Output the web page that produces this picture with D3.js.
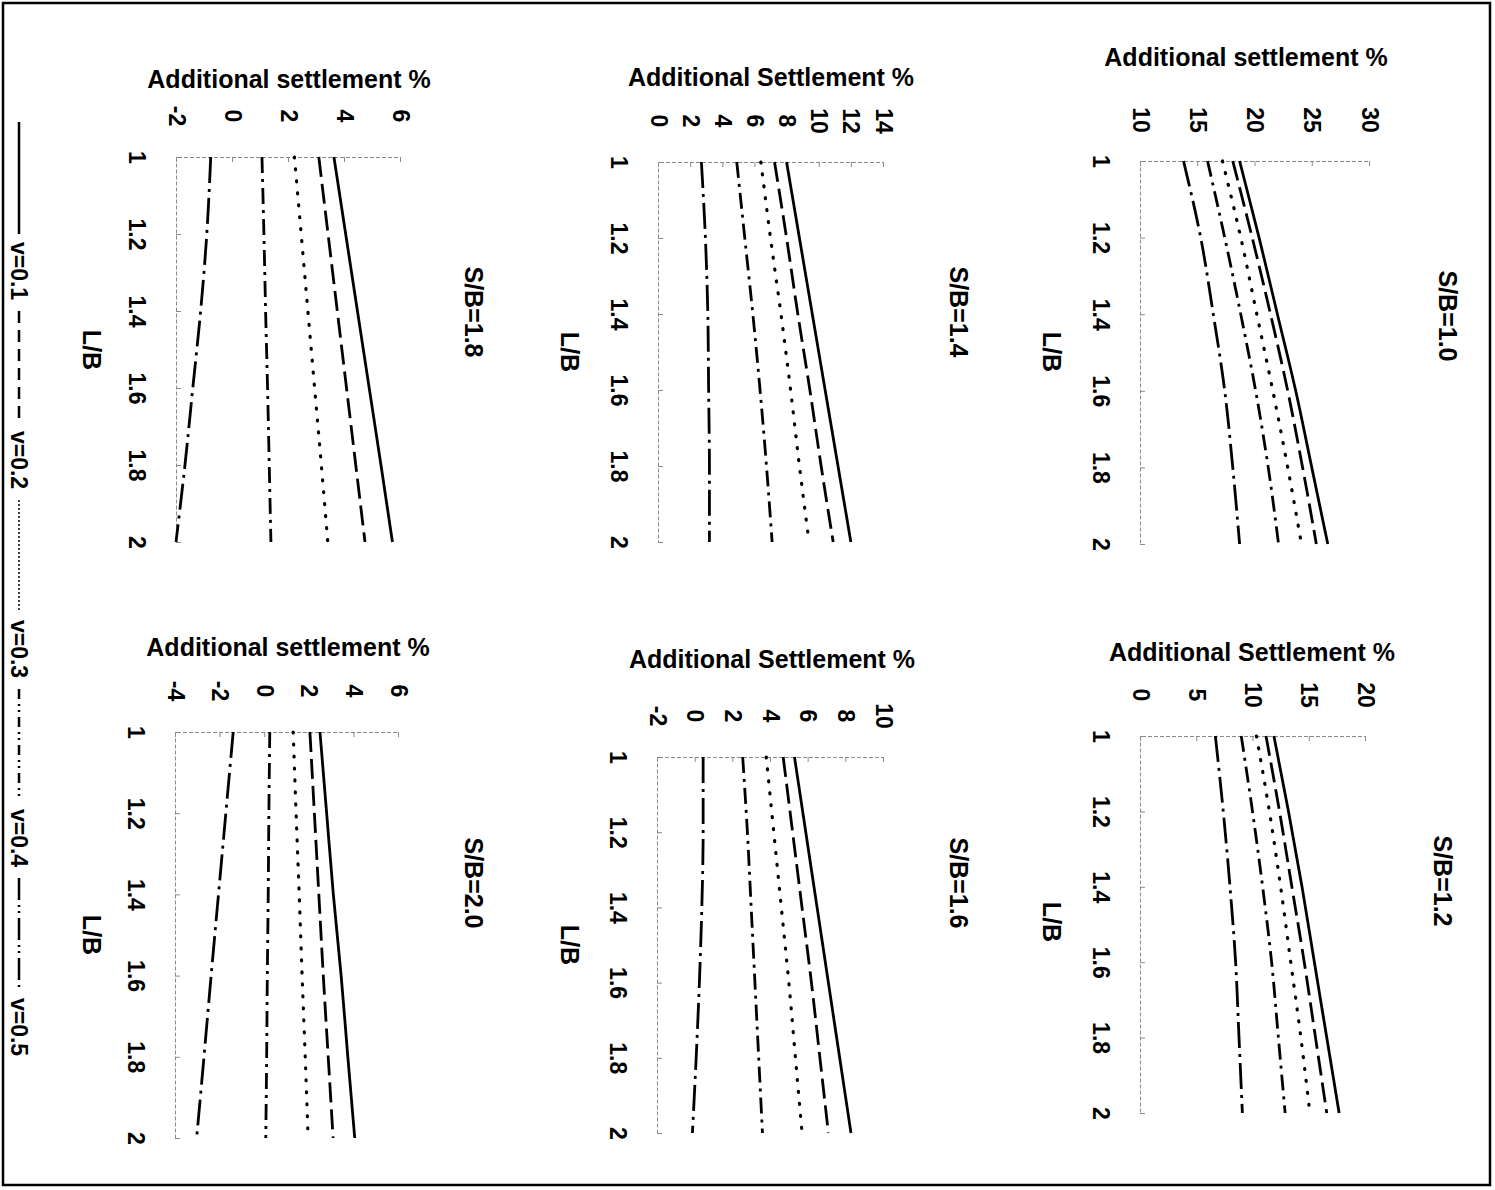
<!DOCTYPE html>
<html><head><meta charset="utf-8">
<script src="https://cdn.jsdelivr.net/npm/d3@7"></script>
<style>
html,body{margin:0;padding:0;background:#fff;}
svg{display:block;}
text{font-family:"Liberation Sans", Arial, Helvetica, sans-serif;}
</style></head><body>
<svg id="chart" width="1495" height="1190"></svg>
<script>
// ---------------- data ----------------
const lbValues = [1, 1.2, 1.4, 1.6, 1.8, 2];
const lbTickLabels = ["1", "1.2", "1.4", "1.6", "1.8", "2"];
const seriesNames = ["v=0.1", "v=0.2", "v=0.3", "v=0.4", "v=0.5"];
const panelNames = ["S/B=1.0", "S/B=1.2", "S/B=1.4", "S/B=1.6", "S/B=1.8", "S/B=2.0"];
const panelTitles = ["Additional settlement %", "Additional Settlement %", "Additional Settlement %",
                     "Additional Settlement %", "Additional settlement %", "Additional settlement %"];

// additional settlement (%) at L/B = 1, 1.2, ..., 2 ; rows v=0.1 .. v=0.5
const sb10 = [
  [18.7, 20.4, 22.0, 23.6, 25.0, 26.4],
  [18.1, 19.8, 21.4, 22.9, 24.2, 25.4],
  [17.2, 18.8, 20.2, 21.6, 22.9, 24.1],
  [15.9, 17.4, 18.8, 20.1, 21.2, 22.1],
  [13.8, 15.3, 16.4, 17.4, 18.1, 18.7]
];
const sb12 = [
  [11.9, 13.2, 14.4, 15.5, 16.6, 17.7],
  [11.2, 12.4, 13.5, 14.6, 15.6, 16.6],
  [10.35, 11.5, 12.5, 13.4, 14.3, 15.1],
  [9.0, 10.0, 10.9, 11.7, 12.3, 12.9],
  [6.7, 7.4, 8.0, 8.5, 8.8, 9.1]
];
const sb14 = [
  [8.0, 8.8, 9.6, 10.4, 11.2, 12.0],
  [7.25, 8.0, 8.7, 9.45, 10.15, 10.9],
  [6.4, 7.0, 7.65, 8.25, 8.8, 9.4],
  [4.9, 5.4, 5.9, 6.35, 6.75, 7.1],
  [2.7, 2.95, 3.1, 3.15, 3.2, 3.2]
];
const sb16 = [
  [5.3, 5.9, 6.5, 7.1, 7.7, 8.3],
  [4.7, 5.2, 5.7, 6.2, 6.65, 7.1],
  [3.8, 4.2, 4.6, 5.0, 5.35, 5.7],
  [2.55, 2.8, 3.0, 3.2, 3.4, 3.6],
  [0.45, 0.45, 0.38, 0.25, 0.08, -0.12]
];
const sb18 = [
  [3.64, 4.06, 4.48, 4.9, 5.32, 5.73],
  [3.1, 3.43, 3.76, 4.09, 4.42, 4.75],
  [2.23, 2.47, 2.71, 2.95, 3.19, 3.42],
  [1.07, 1.14, 1.2, 1.27, 1.33, 1.39],
  [-0.76, -0.9, -1.12, -1.4, -1.68, -2.0]
];
const sb20 = [
  [2.5, 2.8, 3.1, 3.45, 3.75, 4.06],
  [2.05, 2.25, 2.45, 2.65, 2.87, 3.09],
  [1.3, 1.43, 1.57, 1.7, 1.84, 1.97],
  [0.25, 0.21, 0.18, 0.14, 0.11, 0.07],
  [-1.39, -1.72, -2.05, -2.38, -2.7, -3.03]
];
const ticks10 = [10, 15, 20, 25, 30];
const ticks12 = [0, 5, 10, 15, 20];
const ticks14 = [0, 2, 4, 6, 8, 10, 12, 14];
const ticks16 = [-2, 0, 2, 4, 6, 8, 10];
const ticks18 = [-2, 0, 2, 4, 6];
const ticks20 = [-4, -2, 0, 2, 4, 6];

const panelData = [sb10, sb12, sb14, sb16, sb18, sb20];
const panelTicks = [ticks10, ticks12, ticks14, ticks16, ticks18, ticks20];

// ---------------- layout (screen coordinates, figure is rotated 90°) ----------------
const layout = [
  {x0: 1140, x1: 1369, y0: 161, y1: 544, tx: 1246, ty: 57,  sx: 1448, sy: 316, lx: 1052, ly: 352},
  {x0: 1140, x1: 1365, y0: 736, y1: 1113, tx: 1252, ty: 652, sx: 1443, sy: 881, lx: 1052, ly: 922},
  {x0: 658,  x1: 883,  y0: 162, y1: 542, tx: 771,  ty: 77,  sx: 959,  sy: 312, lx: 570,  ly: 352},
  {x0: 657,  x1: 883,  y0: 757, y1: 1133, tx: 772, ty: 659, sx: 959,  sy: 883, lx: 570,  ly: 945},
  {x0: 176,  x1: 400,  y0: 157, y1: 542, tx: 289,  ty: 79,  sx: 474,  sy: 312, lx: 92,   ly: 350},
  {x0: 175,  x1: 398,  y0: 732, y1: 1138, tx: 288, ty: 647, sx: 474,  sy: 883, lx: 92,   ly: 935}
];
const dashes = [null, "20 7", "1 11", "16 6 3 6", "26 6 3 6"];
const caps = ["butt", "butt", "round", "butt", "butt"];
const legendDashes = [null, "12 7", "2 2", "10 5 2 4 2 5", "22 5 2 4 2 5"];
const FONT = "'Liberation Sans', Arial, Helvetica, sans-serif";

const svg = d3.select("#chart");
svg.append("rect").attr("width", 1495).attr("height", 1190).attr("fill", "#fff");
svg.append("rect").attr("x", 3).attr("y", 3).attr("width", 1487).attr("height", 1182)
  .attr("fill", "none").attr("stroke", "#000").attr("stroke-width", 2.5);

panelData.forEach((data, p) => {
  const L = layout[p];
  const ticks = panelTicks[p];
  const x = d3.scaleLinear().domain([ticks[0], ticks[ticks.length - 1]]).range([L.x0, L.x1]);
  const y = d3.scaleLinear().domain([lbValues[0], lbValues[lbValues.length - 1]]).range([L.y0, L.y1]);
  const g = svg.append("g");

  // value axis (screen top)
  const gx = g.append("g").attr("transform", `translate(0,${L.y0})`)
    .call(d3.axisTop(x).tickValues(ticks).tickSizeInner(-5).tickSizeOuter(-5).tickFormat(d => String(d)));
  // L/B axis (screen left)
  const gy = g.append("g").attr("transform", `translate(${L.x0},0)`)
    .call(d3.axisLeft(y).tickValues(lbValues).tickSizeInner(-5).tickSizeOuter(0)
      .tickFormat((d, i) => lbTickLabels[i]));

  [gx, gy].forEach(a => {
    a.attr("font-family", FONT).attr("font-size", 23).attr("font-weight", "bold");
    a.select(".domain").attr("stroke", "#8a8a8a").attr("stroke-width", 1).attr("stroke-dasharray", "4 2");
    a.selectAll(".tick line").attr("stroke", "#8a8a8a").attr("stroke-width", 1);
    a.selectAll(".tick text").attr("fill", "#000").attr("x", null).attr("y", null).attr("dy", null)
      .attr("text-anchor", "middle").attr("dominant-baseline", "central");
  });
  gx.selectAll(".tick text").attr("transform", "translate(0,-41) rotate(90)");
  gy.selectAll(".tick text").attr("transform", "translate(-39,0) rotate(90)");

  // series
  const line = d3.line().x(d => x(d[1])).y(d => y(d[0])).curve(d3.curveMonotoneY);
  data.forEach((vals, s) => {
    g.append("path")
      .attr("d", line(lbValues.map((lb, i) => [lb, vals[i]])))
      .attr("fill", "none").attr("stroke", "#000").attr("stroke-width", s === 2 ? 3.2 : 2.8)
      .attr("stroke-linecap", caps[s])
      .attr("stroke-dasharray", dashes[s]);
  });

  // titles
  g.append("text").attr("x", L.tx).attr("y", L.ty).attr("text-anchor", "middle")
    .attr("dominant-baseline", "central").attr("font-family", FONT).attr("font-size", 25)
    .attr("font-weight", "bold").text(panelTitles[p]);
  g.append("text").attr("transform", `translate(${L.sx},${L.sy}) rotate(90)`).attr("text-anchor", "middle")
    .attr("dominant-baseline", "central").attr("font-family", FONT).attr("font-size", 25)
    .attr("font-weight", "bold").text(panelNames[p]);
  g.append("text").attr("transform", `translate(${L.lx},${L.ly}) rotate(90)`).attr("text-anchor", "middle")
    .attr("dominant-baseline", "central").attr("font-family", FONT).attr("font-size", 25)
    .attr("font-weight", "bold").text("L/B");
});

// legend (vertical, along left edge)
const legX = 19, legY0 = 122, legLine = 112, legGap = 8, legText = 58, legStep = 189;
seriesNames.forEach((name, s) => {
  const yStart = legY0 + s * legStep;
  svg.append("line").attr("x1", legX).attr("x2", legX).attr("y1", yStart).attr("y2", yStart + legLine)
    .attr("stroke", "#000").attr("stroke-width", s === 2 ? 1.5 : 2.5)
    .attr("stroke-dasharray", legendDashes[s]);
  svg.append("text").attr("transform", `translate(${legX},${yStart + legLine + legGap + legText / 2}) rotate(90)`)
    .attr("text-anchor", "middle").attr("dominant-baseline", "central")
    .attr("font-family", FONT).attr("font-size", 23).attr("font-weight", "bold").text(name);
});
</script>
</body></html>
